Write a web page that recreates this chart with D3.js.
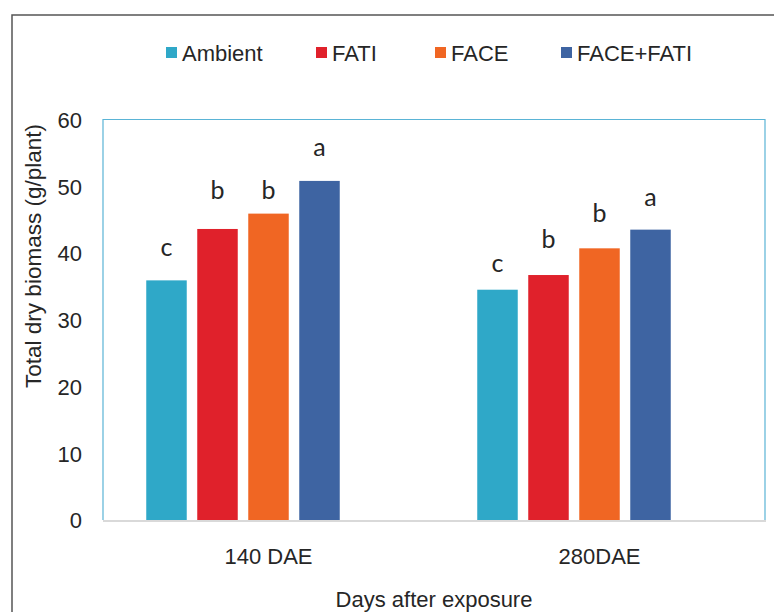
<!DOCTYPE html>
<html>
<head>
<meta charset="utf-8">
<script src="https://cdn.jsdelivr.net/npm/d3@7"></script>
<style>
  html, body { margin: 0; padding: 0; background: #ffffff; }
  svg { display: block; }
  text { font-family: "Liberation Sans", Arial, sans-serif; fill: #262626; }
</style>
</head>
<body>
<script>
// ---- data ----
const categories = ["140 DAE", "280DAE"];
const seriesNames = ["Ambient", "FATI", "FACE", "FACE+FATI"];
const seriesColors = ["#2fa8c8", "#e0212b", "#f06623", "#3e64a2"];
const ambient   = [35.9, 34.5];
const fati      = [43.6, 36.7];
const face      = [45.9, 40.7];
const faceFati  = [50.8, 43.5];
// significance letters and the value height where each letter sits
const letters   = [["c", "b", "b", "a"], ["c", "b", "b", "a"]];
const letterAt  = [[39.5, 48.1, 48.1, 54.5], [37.2, 40.8, 44.7, 47.0]];
const yTicks = [0, 10, 20, 30, 40, 50, 60];
const yTitle = "Total dry biomass (g/plant)";
const xTitle = "Days after exposure";

const values = [ambient, fati, face, faceFati];

// ---- layout ----
const W = 774, H = 612;
const plot = { left: 103, right: 765, top: 119.5, bottom: 520 };

const svg = d3.select("body").append("svg").attr("width", W).attr("height", H);

// outer chart frame
svg.append("rect")
  .attr("x", 12).attr("y", 15).attr("width", 800).attr("height", 700)
  .attr("fill", "#ffffff").attr("stroke", "#555555").attr("stroke-width", 1.5);

const x = d3.scaleBand().domain(categories).range([plot.left, plot.right]).padding(0);
// Excel-like slotting: four series plus an empty fifth slot
const xInner = d3.scaleBand().domain([...seriesNames, "_empty"])
  .range([0, x.bandwidth()]).paddingInner(0.206).paddingOuter(0.848);
const y = d3.scaleLinear().domain([0, 60]).range([plot.bottom, plot.top]);

// plot area border (light blue)
svg.append("path")
  .attr("d", `M${plot.left},${plot.bottom}V${plot.top}H${plot.right}V${plot.bottom}`)
  .attr("fill", "none").attr("stroke", "#5ab4d6").attr("stroke-width", 1.2);

// bars
const barData = [];
categories.forEach((c, ci) => {
  seriesNames.forEach((s, si) => {
    barData.push({ c, s, si, v: values[si][ci], letter: letters[ci][si], lv: letterAt[ci][si] });
  });
});

svg.append("g").selectAll("rect").data(barData).join("rect")
  .attr("x", d => x(d.c) + xInner(d.s))
  .attr("width", xInner.bandwidth())
  .attr("y", d => y(d.v))
  .attr("height", d => y(0) - y(d.v))
  .attr("fill", d => seriesColors[d.si]);

// significance letters
svg.append("g").selectAll("text").data(barData).join("text")
  .attr("x", d => x(d.c) + xInner(d.s) + xInner.bandwidth() / 2)
  .attr("y", d => y(d.lv))
  .attr("text-anchor", "middle")
  .style("font-family", "Lato, 'Open Sans', sans-serif")
  .style("font-size", "25px")
  .text(d => d.letter);

// x axis baseline (grey)
svg.append("line")
  .attr("x1", plot.left).attr("x2", plot.right + 1)
  .attr("y1", y(0) + 1).attr("y2", y(0) + 1)
  .attr("stroke", "#d9d9d9").attr("stroke-width", 2);

// y axis tick labels
const yAxis = d3.axisLeft(y).tickValues(yTicks).tickSize(0).tickPadding(0);
const gy = svg.append("g").attr("transform", `translate(${plot.left - 21},0)`).call(yAxis);
gy.select(".domain").remove();
gy.selectAll("text")
  .style("font-family", "'Liberation Sans', Arial, sans-serif")
  .style("font-size", "22px").attr("fill", "#262626").attr("dy", "0.36em");

// x axis category labels
const xAxis = d3.axisBottom(x).tickSize(0).tickPadding(0);
const gx = svg.append("g").attr("transform", `translate(0,${plot.bottom})`).call(xAxis);
gx.select(".domain").remove();
gx.selectAll("text")
  .style("font-family", "'Liberation Sans', Arial, sans-serif")
  .style("font-size", "22px").attr("fill", "#262626")
  .attr("dy", null).attr("y", 44);

// axis titles
svg.append("text")
  .attr("transform", `translate(41,256) rotate(-90)`)
  .attr("text-anchor", "middle")
  .style("font-size", "22.5px")
  .text(yTitle);

svg.append("text")
  .attr("x", (plot.left + plot.right) / 2).attr("y", 606.5)
  .attr("text-anchor", "middle")
  .style("font-size", "22px")
  .text(xTitle);

// legend
const legendX = [166, 316, 435, 561];
const lg = svg.append("g").selectAll("g").data(seriesNames).join("g")
  .attr("transform", (d, i) => `translate(${legendX[i]},47)`);
lg.append("rect").attr("width", 11).attr("height", 11)
  .attr("fill", (d, i) => seriesColors[i]);
lg.append("text").attr("x", 16).attr("y", 13.5)
  .style("font-size", "22px")
  .text(d => d);
</script>
</body>
</html>
